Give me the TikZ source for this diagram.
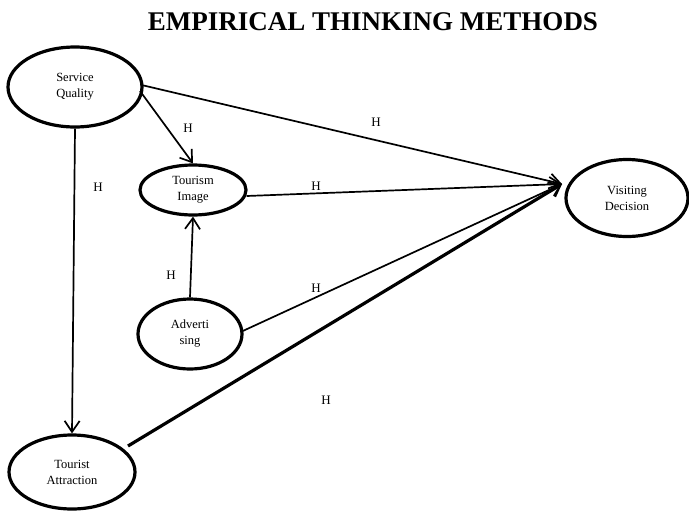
\documentclass[tikz,border=0pt]{standalone}
\usepackage{fontspec}
\setmainfont{Liberation Serif}
\usetikzlibrary{arrows.meta,shapes.geometric}
\begin{document}
\begin{tikzpicture}[x=1pt,y=-1pt,
  construct/.style={draw,line width=3.2pt,ellipse,minimum width=#1,inner sep=0pt,align=center,font=\fontsize{12.5}{16}\selectfont},
  link/.style={line width=1.7pt,-{Straight Barb[length=11pt,width=15pt,line width=1.7pt]}},
  hyp/.style={font=\fontsize{13}{15}\selectfont}]
\useasboundingbox (0,0) rectangle (689,515);
\node[font=\fontsize{27}{30}\bfseries] (title) at (373,22) {EMPIRICAL THINKING METHODS};
\node[construct=134pt,minimum height=80pt] (sq) at (75,87) {Service\\Quality};
\node[construct=106pt,minimum height=50pt] (ti) at (193,190) {Tourism\\Image};
\node[construct=104pt,minimum height=70pt] (ad) at (190,334) {Adverti\\sing};
\node[construct=126pt,minimum height=74pt] (ta) at (72,472) {Tourist\\Attraction};
\node[construct=122pt,minimum height=77pt] (vd) at (627,198) {Visiting\\Decision};
\coordinate (hub) at (562,184);
\draw[link] (sq.east) ++(-2,-2) coordinate (s1) -- (hub);
\draw[link] (sq) ++(65,4) -- (ti.north);
\draw[link] (sq.south) -- (ta.north);
\draw[link] (ti.east) ++(-1,6) -- (hub);
\draw[link] (ad.north) -- (ti.south);
\draw[link] (ad.east) ++(-3,-2) -- (hub);
\draw[link,line width=3.2pt] (ta) ++(56,-26) -- (hub);
\node[hyp] (h1) at (188,128) {H};
\node[hyp] (h2) at (376,122) {H};
\node[hyp] (h3) at (98,187) {H};
\node[hyp] (h4) at (316,186) {H};
\node[hyp] (h5) at (171,275) {H};
\node[hyp] (h6) at (316,288) {H};
\node[hyp] (h7) at (326,400) {H};
\end{tikzpicture}
\end{document}
